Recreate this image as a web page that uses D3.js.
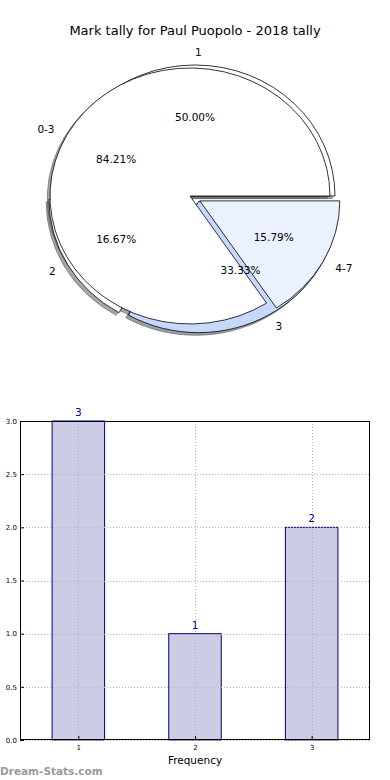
<!DOCTYPE html>
<html lang="en">
<head>
<meta charset="UTF-8">
<title>Mark tally for Paul Puopolo - 2018 tally</title>
<script src="https://cdn.jsdelivr.net/npm/d3@7"></script>
<style>
    body { margin: 0; background: #fff; }
    text { font-family: "DejaVu Sans", sans-serif; }
</style>
</head>
<body>
<svg id="main" width="390" height="780"></svg>
<script>
    // pie data: mark groups and single marks
    const groupLabels = ["0-3", "4-7"];
    const groupValues = [16, 3];
    const markLabels = ["1", "2", "3"];
    const markValues = [3, 1, 2];
    // bar data
    const freqLabels = [1, 2, 3];
    const freqValues = [3, 1, 2];
    const yTicks = [0, 0.5, 1.0, 1.5, 2.0, 2.5, 3.0];

    const svg = d3.select("#main");

    svg.append("text")
        .attr("x", 195).attr("y", 30)
        .attr("text-anchor", "middle").attr("dominant-baseline", "central")
        .attr("font-size", "13px").text("Mark tally for Paul Puopolo - 2018 tally");

    const shadowLayer = svg.append("g");
    const wedgeLayer = svg.append("g");
    const textLayer = svg.append("g");

    function drawPie(labels, values, colors, explode, cx, cy, rx, ry) {
        const pie = d3.pie().sort(null)
            .startAngle(Math.PI / 2).endAngle(Math.PI / 2 - 2 * Math.PI);
        const arc = d3.arc().innerRadius(0).outerRadius(1);
        const total = d3.sum(values);
        pie(values).forEach((d, i) => {
            const mid = Math.PI / 2 - (d.startAngle + d.endAngle) / 2;
            const c = Math.cos(mid), s = Math.sin(mid);
            const ox = cx + explode[i] * rx * c;
            const oy = cy - explode[i] * ry * s;
            const col = d3.rgb(colors[i]);
            const sh = d3.rgb(col.r * 0.3, col.g * 0.3, col.b * 0.3);

            shadowLayer.append("path")
                .attr("d", arc(d))
                .attr("transform", `translate(${ox - 0.02 * rx},${oy + 0.02 * ry}) scale(${rx},${ry})`)
                .attr("fill", sh).attr("fill-opacity", 0.5)
                .attr("stroke", sh).attr("stroke-opacity", 0.5)
                .attr("vector-effect", "non-scaling-stroke");

            wedgeLayer.append("path")
                .attr("d", arc(d))
                .attr("transform", `translate(${ox},${oy}) scale(${rx},${ry})`)
                .attr("fill", colors[i]).attr("stroke", "#000").attr("stroke-width", 0.8)
                .attr("vector-effect", "non-scaling-stroke");

            textLayer.append("text")
                .attr("x", ox + 1.1 * rx * c).attr("y", oy - 1.1 * ry * s)
                .attr("text-anchor", c > 0 ? "start" : "end")
                .attr("dominant-baseline", "central")
                .attr("font-size", "10.5px").text(labels[i]);
            textLayer.append("text")
                .attr("x", ox + 0.6 * rx * c).attr("y", oy - 0.6 * ry * s)
                .attr("text-anchor", "middle")
                .attr("dominant-baseline", "central")
                .attr("font-size", "10.5px")
                .text((100 * values[i] / total).toFixed(2) + "%");
        });
    }

    // single marks pie drawn first, groups pie on top
    drawPie(markLabels, markValues, ["#ffffff", "#ffffff", "#c6d8fb"], [0, 0.05, 0.05], 195, 196, 140, 131);
    drawPie(groupLabels, groupValues, ["#ffffff", "#ebf1fe"], [0, 0.08], 190, 196, 140, 128);

    // bar chart
    const axLeft = 20, axRight = 370, axTop = 421, axBottom = 740;
    const x = d3.scaleLinear().domain([0.5, 3.5]).range([axLeft, axRight]);
    const y = d3.scaleLinear().domain([0, 3]).range([axBottom, axTop]);
    const barW = 0.45;

    svg.append("g").selectAll("rect")
        .data(freqValues)
        .join("rect")
        .attr("x", (d, i) => x(freqLabels[i] - barW / 2))
        .attr("y", d => y(d))
        .attr("width", x(barW) - x(0))
        .attr("height", d => y(0) - y(d))
        .attr("fill", "#cccce4")
        .attr("stroke", "#000080").attr("stroke-width", 1);

    const grid = svg.append("g")
        .attr("stroke", "#b0b0b0").attr("stroke-dasharray", "1,2").attr("stroke-width", 1);
    grid.selectAll(".gx").data(freqLabels).join("line")
        .attr("x1", d => Math.round(x(d)) + 0.5).attr("x2", d => Math.round(x(d)) + 0.5)
        .attr("y1", axTop).attr("y2", axBottom);
    grid.selectAll(".gy").data(yTicks).join("line")
        .attr("x1", axLeft).attr("x2", axRight)
        .attr("y1", d => Math.round(y(d)) + 0.5).attr("y2", d => Math.round(y(d)) + 0.5);

    svg.append("rect")
        .attr("x", axLeft + 0.5).attr("y", axTop + 0.5)
        .attr("width", axRight - axLeft - 1).attr("height", axBottom - axTop - 1)
        .attr("fill", "none").attr("stroke", "#000").attr("stroke-width", 1);

    const yAxis = svg.append("g")
        .attr("transform", `translate(${axLeft},0)`)
        .call(d3.axisLeft(y).tickValues(yTicks).tickFormat(d3.format(".1f"))
            .tickSizeInner(-4).tickSizeOuter(0).tickPadding(3));
    yAxis.select(".domain").remove();
    yAxis.selectAll("text").attr("font-size", "7px").attr("font-family", "DejaVu Sans");

    const xAxis = svg.append("g")
        .attr("transform", `translate(0,${axBottom})`)
        .call(d3.axisBottom(x).tickValues(freqLabels).tickFormat(d3.format("d"))
            .tickSizeInner(-4).tickSizeOuter(0).tickPadding(5));
    xAxis.select(".domain").remove();
    xAxis.selectAll("text").attr("font-size", "7px").attr("font-family", "DejaVu Sans");

    svg.append("g").selectAll("text")
        .data(freqValues)
        .join("text")
        .attr("x", (d, i) => x(freqLabels[i]))
        .attr("y", d => y(d) - 5)
        .attr("text-anchor", "middle")
        .attr("font-size", "10.5px").attr("fill", "#00008b")
        .text(d => d);

    svg.append("text")
        .attr("x", x(2)).attr("y", 764)
        .attr("text-anchor", "middle")
        .attr("font-size", "10.5px").text("Frequency");

    svg.append("text")
        .attr("x", 0).attr("y", 775)
        .attr("font-size", "10.5px").attr("font-weight", "bold")
        .attr("fill", "#9a9a9a").text("Dream-Stats.com");
</script>
</body>
</html>
